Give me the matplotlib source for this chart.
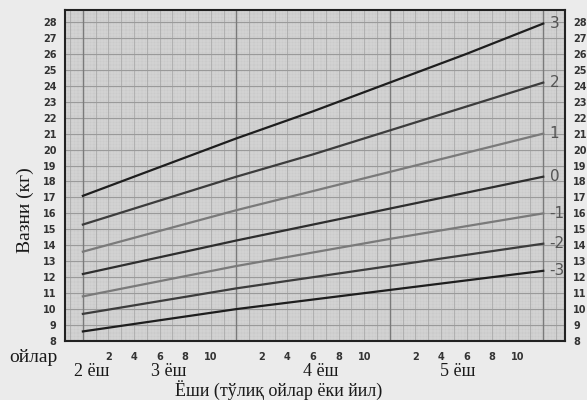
import numpy as np
import matplotlib.pyplot as plt
from matplotlib.transforms import blended_transform_factory

# WHO weight-for-age z-score curves, 24 to 60 months
months = [24, 30, 36, 42, 48, 54, 60]
z_labels = ["3", "2", "1", "0", "-1", "-2", "-3"]
z_curves = {
    "3": [17.1, 18.9, 20.7, 22.4, 24.2, 26.0, 27.9],
    "2": [15.3, 16.8, 18.3, 19.7, 21.2, 22.7, 24.2],
    "1": [13.6, 14.9, 16.2, 17.4, 18.6, 19.8, 21.0],
    "0": [12.2, 13.25, 14.3, 15.3, 16.3, 17.3, 18.3],
    "-1": [10.8, 11.75, 12.7, 13.55, 14.4, 15.2, 16.0],
    "-2": [9.7, 10.5, 11.3, 12.0, 12.7, 13.4, 14.1],
    "-3": [8.6, 9.3, 10.0, 10.6, 11.2, 11.8, 12.4],
}
line_colors = {"3": "#1e1e1e", "2": "#3c3c3c", "1": "#7a7a7a", "0": "#2e2e2e",
               "-1": "#7a7a7a", "-2": "#3c3c3c", "-3": "#1e1e1e"}

month_ticks = [26, 28, 30, 32, 34, 38, 40, 42, 44, 46, 50, 52, 54, 56, 58]
month_tick_labels = ["2", "4", "6", "8", "10"] * 3
kg_ticks = list(range(8, 29))
year_labels = ["2 ёш", "3 ёш", "4 ёш", "5 ёш"]
year_label_pos = [24.7, 30.7, 42.6, 53.3]

serif = "Liberation Serif"

fig = plt.figure(figsize=(5.87, 4.0), dpi=100)
fig.patch.set_facecolor("#ebebeb")
ax = fig.add_axes([0.1107, 0.1475, 0.8518, 0.8275])
ax.set_facecolor("#cbcbcb")
ax.set_xlim(22.6, 61.7)
ax.set_ylim(8, 28.75)

# fine grid
for v in np.arange(22.75, 61.7, 0.25):
    ax.axvline(v, color="#dedede", lw=0.35, zorder=1)
for h in np.arange(8, 28.75, 0.2):
    ax.axhline(h, color="#dedede", lw=0.35, zorder=1)
# month / kg grid
for v in range(23, 62):
    ax.axvline(v, color="#ababab", lw=0.6, zorder=1)
for h in kg_ticks:
    ax.axhline(h, color="#9a9a9a", lw=0.8, zorder=1)
for v in [24, 36, 48, 60]:
    ax.axvline(v, color="#7a7a7a", lw=1.0, zorder=1)

for z in z_labels:
    ax.plot(months, z_curves[z], color=line_colors[z], lw=1.6, zorder=3)
    ax.text(60.5, z_curves[z][-1], z, color="#555555", fontsize=11,
            va="center", ha="left", zorder=4)

ax.set_yticks(kg_ticks)
ax.set_yticklabels([str(k) for k in kg_ticks])
ax.tick_params(axis="y", length=0, labelsize=7, labelcolor="#333333",
               labelright=True, pad=6)
ax.set_xticks(month_ticks)
ax.set_xticklabels(month_tick_labels)
ax.tick_params(axis="x", length=0, labelsize=7, labelcolor="#333333", pad=8)
for lab in ax.get_xticklabels() + ax.get_yticklabels():
    lab.set_fontweight("bold")

for s in ax.spines.values():
    s.set_linewidth(1.5)
    s.set_color("#222222")

# year labels: x in months, y in figure fraction
trans = blended_transform_factory(ax.transData, fig.transFigure)
for lab, m in zip(year_labels, year_label_pos):
    ax.text(m, 0.07, lab, transform=trans, family=serif, fontsize=13,
            color="#1a1a1a", ha="center", va="center", clip_on=False)

fig.text(0.015, 0.105, "ойлар", family=serif, fontsize=14, color="#1a1a1a",
         va="center", ha="left")
fig.text(0.474, 0.024, "Ёши (тўлиқ ойлар ёки йил)", family=serif, fontsize=13,
         color="#1a1a1a", ha="center", va="center")
fig.text(0.043, 0.475, "Вазни (кг)", family=serif, fontsize=14, color="#1a1a1a",
         rotation=90, ha="center", va="center")

fig.savefig("out.png", dpi=100, facecolor=fig.get_facecolor())
